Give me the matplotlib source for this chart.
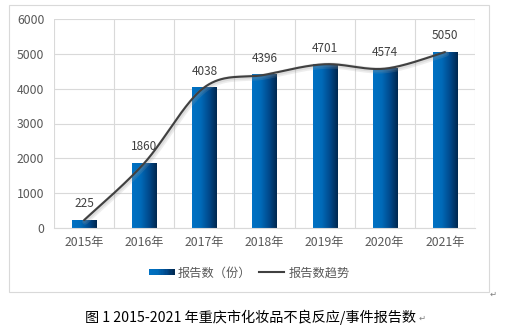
import numpy as np
import matplotlib
matplotlib.use("Agg")
import matplotlib.pyplot as plt
from matplotlib.patches import Rectangle
from matplotlib.lines import Line2D
from matplotlib.legend_handler import HandlerBase
from matplotlib.colors import LinearSegmentedColormap
import matplotlib.patheffects as pe

plt.rcParams['font.family'] = ['Noto Sans CJK SC', 'DejaVu Sans']

years = ['2015年', '2016年', '2017年', '2018年', '2019年', '2020年', '2021年']
reports = [225, 1860, 4038, 4396, 4701, 4574, 5050]
y_ticks = [0, 1000, 2000, 3000, 4000, 5000, 6000]
bar_label = '报告数（份）'
line_label = '报告数趋势'
caption = '图 1 2015-2021 年重庆市化妆品不良反应/事件报告数'

W, H = 515, 330
fig = plt.figure(figsize=(W / 100, H / 100), dpi=100)
ax = fig.add_axes([54 / W, 1 - 228 / H, (475 - 54) / W, (228 - 19) / H])

cmap = LinearSegmentedColormap.from_list(
    'bar', [(0.0, '#0072C4'), (0.35, '#006AB8'), (0.7, '#00488A'), (1.0, '#00284F')])
grad = np.linspace(0, 1, 64).reshape(1, -1)

x = np.arange(len(years))
bw = 0.4
bars = ax.bar(x, reports, width=bw, color='none', zorder=2)
for b in bars:
    x0, y0 = b.get_x(), b.get_y()
    ax.imshow(grad, cmap=cmap, aspect='auto', zorder=2,
              extent=[x0, x0 + b.get_width(), y0, y0 + b.get_height()],
              interpolation='bilinear')

# Excel-like smoothed line (cubic Bezier through the points)
pts = np.column_stack([x, reports]).astype(float)
curve = []
n = len(pts)
for i in range(n - 1):
    p0 = pts[max(i - 1, 0)]
    p1 = pts[i]
    p2 = pts[i + 1]
    p3 = pts[min(i + 2, n - 1)]
    c1 = p1 + (p2 - p0) / 6.0
    c2 = p2 - (p3 - p1) / 6.0
    t = np.linspace(0, 1, 40)[:, None]
    seg = ((1 - t) ** 3) * p1 + 3 * ((1 - t) ** 2) * t * c1 + 3 * (1 - t) * t ** 2 * c2 + t ** 3 * p2
    curve.append(seg if i == 0 else seg[1:])
curve = np.vstack(curve)
ax.plot(curve[:, 0], curve[:, 1], color='#404040', lw=1.5, zorder=4,
        solid_capstyle='round',
        path_effects=[pe.SimpleLineShadow(offset=(0.8, -1.0), shadow_color='#A0A0A0', alpha=0.18, linewidth=4.5),
                      pe.SimpleLineShadow(offset=(0.5, -0.6), shadow_color='#909090', alpha=0.18, linewidth=3.0),
                      pe.Normal()])

for xi, v in zip(x, reports):
    ax.annotate(str(v), (xi, v), xytext=(0, 7), textcoords='offset points',
                ha='center', va='bottom', fontsize=8.5, color='#404040', zorder=5)

ax.set_xlim(-0.5, len(years) - 0.5)
ax.set_ylim(0, 6000)
ax.set_yticks(y_ticks)
ax.set_yticklabels([str(t) for t in y_ticks])
ax.set_xticks(x)
ax.set_xticklabels(years)
ax.tick_params(length=0, labelsize=8.8, colors='#595959')
ax.tick_params(axis='y', pad=7)
ax.tick_params(axis='x', pad=6)
ax.grid(axis='y', color='#D9D9D9', lw=0.8, zorder=0)
for b in np.arange(-0.5, len(years), 1.0):
    ax.axvline(b, color='#D9D9D9', lw=0.8, zorder=0)
for s in ['top', 'right', 'left']:
    ax.spines[s].set_visible(False)
ax.spines['bottom'].set_color('#D9D9D9')
ax.spines['bottom'].set_linewidth(0.8)
ax.set_facecolor('white')


class GradientHandler(HandlerBase):
    def create_artists(self, legend, orig_handle, xdescent, ydescent, width, height, fontsize, trans):
        arts = []
        k = 20
        for j in range(k):
            r = Rectangle((-xdescent + width * j / k, -ydescent + height * 0.15), width / k + 0.3, height * 0.7,
                          facecolor=cmap((j + 0.5) / k), edgecolor='none', transform=trans)
            arts.append(r)
        return arts


bar_handle = Rectangle((0, 0), 1, 1)
line_handle = Line2D([], [], color='#404040', lw=1.5)
fig.legend([bar_handle, line_handle], [bar_label, line_label], ncol=2, frameon=False,
           loc='center', bbox_to_anchor=(249 / W, 1 - 273 / H), fontsize=8.8,
           labelcolor='#595959', handlelength=2.1, handletextpad=0.3, columnspacing=0.6,
           handler_map={Rectangle: GradientHandler()})

fig.add_artist(Rectangle((9 / W, 1 - 292 / H), (489 - 9) / W, (292 - 4.5) / H,
                         transform=fig.transFigure, fill=False, ec='#D9D9D9', lw=0.8))
fig.text(493 / W, 1 - 294 / H, '↵', fontsize=6, color='#7F7F7F', ha='center', va='center')
fig.text(85 / W, 1 - 317 / H, caption, fontsize=10.2, color='black', ha='left', va='center')
fig.text(419 / W, 1 - 318 / H, '↵', fontsize=6, color='#7F7F7F', ha='left', va='center')

fig.savefig('out.png', dpi=100, facecolor='white')
